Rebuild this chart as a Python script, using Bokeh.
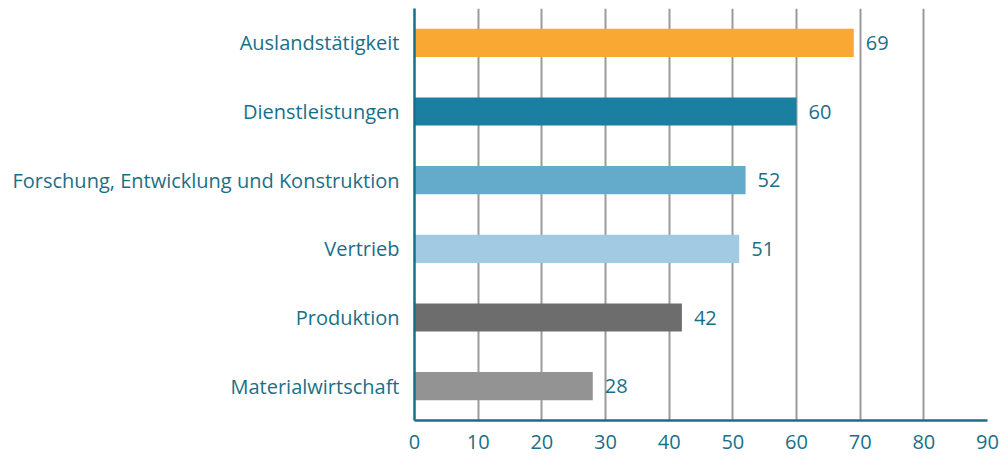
from bokeh.plotting import figure
from bokeh.models import ColumnDataSource, FactorRange, Range1d, FixedTicker
from bokeh.core.properties import value
from bokeh.embed import file_html
from bokeh.resources import INLINE

categories = ["Auslandstätigkeit", "Dienstleistungen", "Forschung, Entwicklung und Konstruktion",
              "Vertrieb", "Produktion", "Materialwirtschaft"]
values = [69, 60, 52, 51, 42, 28]
colors = ["#F9A833", "#1A7FA0", "#63AACB", "#A2CAE2", "#6D6D6D", "#939393"]
ticks = [0, 10, 20, 30, 40, 50, 60, 70, 80, 90]

TEXT = "#1A6F88"
FONT = "Open Sans"

src = ColumnDataSource(dict(cat=categories, val=values, col=colors,
                            lab=[str(v) for v in values]))

p = figure(width=1006, height=457, output_backend="svg", toolbar_location=None,
           y_range=FactorRange(factors=list(reversed(categories))),
           x_range=Range1d(0, 90),
           min_border_left=414, min_border_right=19, min_border_top=8, min_border_bottom=37)
p.outline_line_color = None
p.background_fill_color = "white"

p.hbar(y="cat", right="val", left=0, height=0.41, color="col", source=src, line_color=None)
p.text(x="val", y="cat", text="lab", source=src, x_offset=12, text_baseline="middle",
       text_align="left", text_font=value(FONT), text_font_size="20px", text_color=TEXT)

p.xaxis.ticker = FixedTicker(ticks=ticks)
p.xaxis.major_tick_line_color = None
p.xaxis.minor_tick_line_color = None
p.xaxis.axis_line_color = TEXT
p.xaxis.axis_line_width = 2.5
p.xaxis.major_label_text_color = TEXT
p.xaxis.major_label_text_font = FONT
p.xaxis.major_label_text_font_size = "20px"
p.xaxis.major_label_standoff = 8

p.yaxis.major_tick_line_color = None
p.yaxis.minor_tick_line_color = None
p.yaxis.axis_line_color = TEXT
p.yaxis.axis_line_width = 2.5
p.yaxis.major_label_text_color = TEXT
p.yaxis.major_label_text_font = FONT
p.yaxis.major_label_text_font_size = "20px"
p.yaxis.major_label_standoff = 9

p.xgrid.grid_line_color = "#9A9A9A"
p.xgrid.grid_line_width = 2
p.xgrid.ticker = FixedTicker(ticks=ticks)
p.ygrid.grid_line_color = None
p.xgrid.level = "underlay"

open("out.html", "w").write(file_html(p, INLINE))
